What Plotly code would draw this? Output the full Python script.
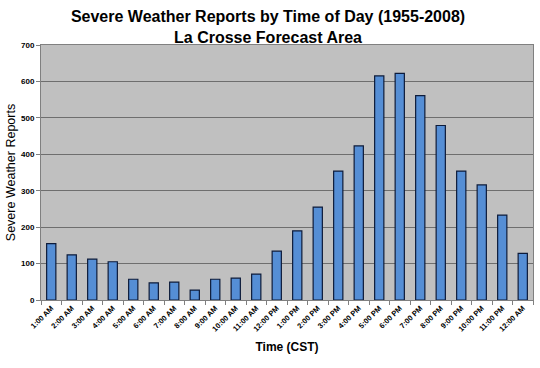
import plotly.graph_objects as go

categories = ["1:00 AM", "2:00 AM", "3:00 AM", "4:00 AM", "5:00 AM", "6:00 AM",
              "7:00 AM", "8:00 AM", "9:00 AM", "10:00 AM", "11:00 AM", "12:00 PM",
              "1:00 PM", "2:00 PM", "3:00 PM", "4:00 PM", "5:00 PM", "6:00 PM",
              "7:00 PM", "8:00 PM", "9:00 PM", "10:00 PM", "11:00 PM", "12:00 AM"]
reports = [155, 124, 112, 105, 57, 47, 49, 27, 57, 60, 71, 134,
           190, 255, 354, 423, 615, 622, 561, 479, 354, 316, 233, 128]
y_ticks = [0, 100, 200, 300, 400, 500, 600, 700]

fig = go.Figure(go.Bar(
    x=categories, y=reports, width=0.45,
    marker=dict(color="#558ED5", line=dict(color="#0D1B3A", width=1.2)),
))

font = "Liberation Sans, Arial, sans-serif"
fig.update_layout(
    width=540, height=368,
    margin=dict(l=41, r=7, t=45, b=68, autoexpand=False),
    paper_bgcolor="white", plot_bgcolor="#C0C0C0",
    title=dict(text="<b>Severe Weather Reports by Time of Day (1955-2008)<br>La Crosse Forecast Area</b>",
               x=268 / 540, xanchor="center", yref="container", y=1 - 22 / 368, yanchor="middle",
               font=dict(family=font, size=16, color="black")),
    font=dict(family=font, color="black"),
    showlegend=False, bargap=0.55,
)
fig.update_xaxes(
    type="category", tickson="boundaries", ticks="outside", ticklen=4,
    tickcolor="#808080", tickangle=-45, automargin=False,
    tickfont=dict(family=font, size=7.5, color="black", weight="bold"),
    showline=True, linecolor="#808080", linewidth=1, mirror=True,
    showgrid=False,
    title=dict(text="<b>Time (CST)</b>", font=dict(family=font, size=12), standoff=10),
)
fig.update_yaxes(
    range=[0, 700], tickvals=y_ticks, ticks="outside", ticklen=4,
    tickcolor="#808080", automargin=False,
    tickfont=dict(family=font, size=8, color="black", weight="bold"),
    showline=True, linecolor="#808080", linewidth=1, mirror=True,
    showgrid=True, gridcolor="#6E6E6E", gridwidth=1, zeroline=False,
    title=dict(text="Severe Weather Reports", font=dict(family=font, size=12.5), standoff=2),
)
fig.write_html("out.html", config={"displayModeBar": False},
               post_script="document.body.style.margin='0px';document.body.style.overflow='hidden';")
